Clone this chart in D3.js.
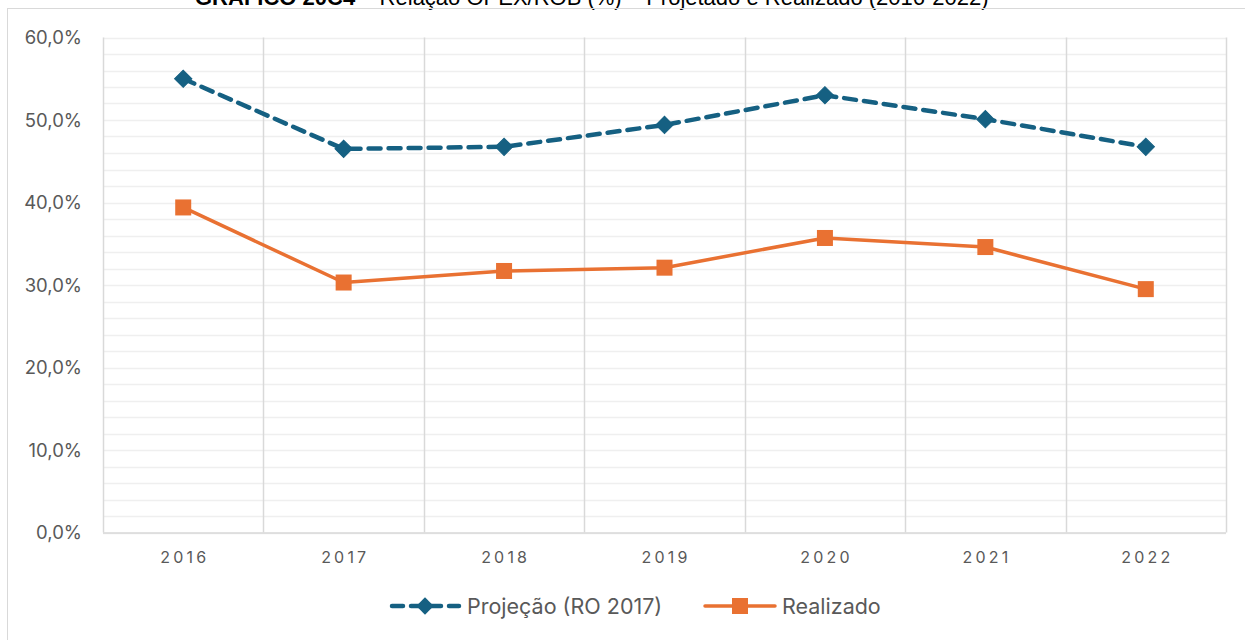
<!DOCTYPE html>
<html>
<head>
<meta charset="utf-8">
<script src="https://cdn.jsdelivr.net/npm/d3@7"></script>
<style>
  html, body { margin: 0; padding: 0; background: #ffffff; }
  svg { display: block; }
</style>
</head>
<body>
<svg id="chart" width="1245" height="640"></svg>
<script>
const categories = ["2016", "2017", "2018", "2019", "2020", "2021", "2022"];
const projecao = [55.0, 46.5, 46.75, 49.4, 53.0, 50.1, 46.75];
const realizado = [39.4, 30.3, 31.7, 32.1, 35.7, 34.6, 29.5];
const yTicks = [0, 10, 20, 30, 40, 50, 60];
const seriesNames = ["Projeção (RO 2017)", "Realizado"];
const titleBold = "GRÁFICO 20C4";
const titleRest = " – Relação OPEX/ROB (%) – Projetado e Realizado (2016-2022)";

const svg = d3.select("#chart");
const W = 1245, H = 640;
const m = { left: 103, right: 1226, top: 37.5, bottom: 532.5 };
const fontFam = "'Liberation Sans', Arial, sans-serif";
const labelFont = "Inter, 'Noto Sans', sans-serif";
const blue = "#156082";
const orange = "#E97132";

// Title (partially cropped at top, as in the reference)
const title = svg.append("text")
  .attr("x", 195).attr("y", 5)
  .attr("font-family", fontFam)
  .attr("font-size", 22)
  .attr("fill", "#000");
title.append("tspan").attr("font-weight", "bold").text(titleBold);
title.append("tspan").text(titleRest);

// Outer chart border
svg.append("rect")
  .attr("x", 7.5).attr("y", 8.5)
  .attr("width", W + 10).attr("height", H + 10)
  .attr("fill", "none").attr("stroke", "#d9d9d9").attr("stroke-width", 1);

const x = d3.scaleBand().domain(categories).range([m.left, m.right]).padding(0);
const y = d3.scaleLinear().domain([0, 60]).range([m.bottom, m.top]);

// Minor horizontal gridlines (every 2%)
const minor = d3.range(0, 61, 2);
svg.append("g").selectAll("line").data(minor).join("line")
  .attr("x1", m.left).attr("x2", m.right)
  .attr("y1", d => Math.round(y(d)) + 0.5).attr("y2", d => Math.round(y(d)) + 0.5)
  .attr("stroke", "#efefef").attr("stroke-width", 1.5);

// Vertical gridlines at category boundaries
const bounds = categories.map(c => x(c)).concat([x.range()[1]]);
svg.append("g").selectAll("line").data(bounds).join("line")
  .attr("x1", d => Math.round(d) + 0.5).attr("x2", d => Math.round(d) + 0.5)
  .attr("y1", m.top).attr("y2", m.bottom)
  .attr("stroke", "#d9d9d9").attr("stroke-width", 1.5);

// X axis baseline
svg.append("line")
  .attr("x1", m.left).attr("x2", m.right)
  .attr("y1", m.bottom + 0.5).attr("y2", m.bottom + 0.5)
  .attr("stroke", "#d9d9d9").attr("stroke-width", 1.5);

// Y axis labels
const yAxis = d3.axisLeft(y).tickValues(yTicks).tickSize(0).tickPadding(0)
  .tickFormat(d => d.toFixed(1).replace(".", ",") + "%");
const gy = svg.append("g").attr("transform", `translate(82,0)`).call(yAxis);
gy.select(".domain").remove();
gy.selectAll("text")
  .attr("font-family", labelFont).attr("font-size", 18.5)
  .attr("fill", "#595959").attr("dy", "0.35em");

// X axis labels
const xAxis = d3.axisBottom(x).tickSize(0).tickPadding(0);
const gx = svg.append("g").attr("transform", `translate(0,${m.bottom})`).call(xAxis);
gx.select(".domain").remove();
gx.selectAll("text")
  .attr("font-family", labelFont).attr("font-size", 16)
  .attr("fill", "#595959").attr("letter-spacing", "3.2px")
  .attr("y", 30).attr("dy", 0).attr("dx", "1.6px");

const cx = c => x(c) + x.bandwidth() / 2;

// Lines
const line = d3.line().x((d, i) => cx(categories[i])).y(d => y(d));
svg.append("path").datum(projecao)
  .attr("d", line).attr("fill", "none")
  .attr("stroke", blue).attr("stroke-width", 4.5)
  .attr("stroke-dasharray", "12,8").attr("stroke-linecap", "round");
svg.append("path").datum(realizado)
  .attr("d", line).attr("fill", "none")
  .attr("stroke", orange).attr("stroke-width", 3.5)
  .attr("stroke-linejoin", "round");

// Markers
const diamond = d3.symbol().type(d3.symbolSquare).size(150);
svg.append("g").selectAll("path").data(projecao).join("path")
  .attr("d", diamond())
  .attr("transform", (d, i) => `translate(${cx(categories[i])},${y(d)}) rotate(45)`)
  .attr("fill", blue).attr("stroke", blue).attr("stroke-width", 1);
svg.append("g").selectAll("rect").data(realizado).join("rect")
  .attr("x", (d, i) => cx(categories[i]) - 8)
  .attr("y", d => y(d) - 8)
  .attr("width", 16).attr("height", 16)
  .attr("fill", orange);

// Legend
const ly = 606;
const lg = svg.append("g");
// Projeção
lg.append("line").attr("x1", 392).attr("x2", 459).attr("y1", ly).attr("y2", ly)
  .attr("stroke", blue).attr("stroke-width", 4.5)
  .attr("stroke-dasharray", "11,8").attr("stroke-linecap", "round");
lg.append("path").attr("d", diamond())
  .attr("transform", `translate(425,${ly}) rotate(45)`).attr("fill", blue);
lg.append("text").attr("x", 467).attr("y", ly).attr("dy", "0.35em")
  .attr("font-family", labelFont).attr("font-size", 21.5).attr("fill", "#595959")
  .text(seriesNames[0]);
// Realizado
lg.append("line").attr("x1", 705).attr("x2", 775).attr("y1", ly).attr("y2", ly)
  .attr("stroke", orange).attr("stroke-width", 3.5).attr("stroke-linecap", "round");
lg.append("rect").attr("x", 732).attr("y", ly - 8).attr("width", 16).attr("height", 16)
  .attr("fill", orange);
lg.append("text").attr("x", 782).attr("y", ly).attr("dy", "0.35em")
  .attr("font-family", labelFont).attr("font-size", 21.5).attr("fill", "#595959")
  .text(seriesNames[1]);
</script>
</body>
</html>
